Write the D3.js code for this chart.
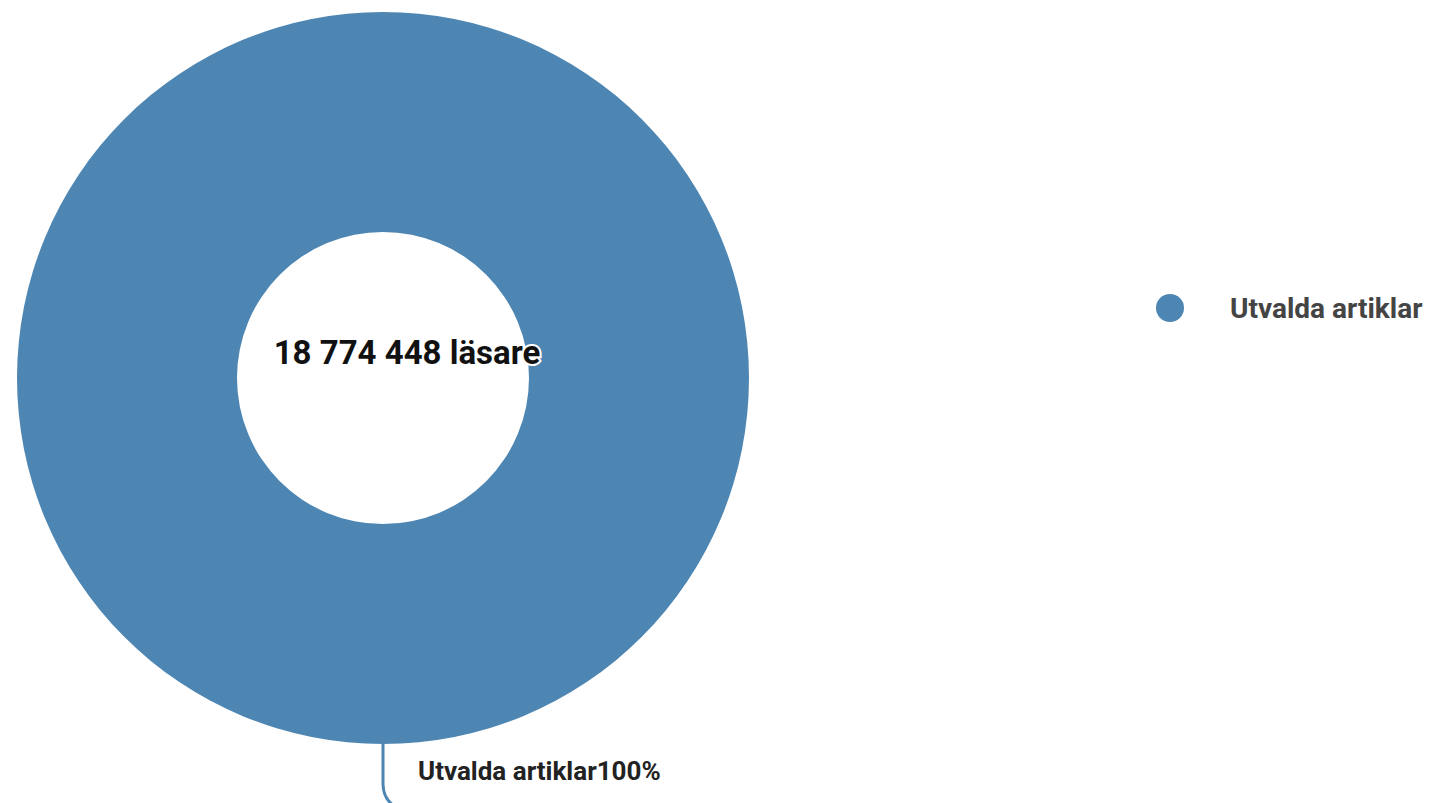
<!DOCTYPE html>
<html>
<head>
<meta charset="utf-8">
<script src="https://cdn.jsdelivr.net/npm/d3@7"></script>
<style>
  html, body { margin: 0; padding: 0; background: #fff; }
  svg { display: block; font-family: Roboto, "Noto Sans", sans-serif; }
</style>
</head>
<body>
<svg id="chart" width="1435" height="803"></svg>
<script>
// data
var categories = ["Utvalda artiklar"];
var values = [18774448];
var totalLabel = "18 774 448 läsare";
var colors = ["#4e86b3"];

var svg = d3.select("#chart");
var cx = 383, cy = 378;
var outerR = 366, innerR = 146;

var pie = d3.pie().sort(null).value(function(d) { return d; });
var arc = d3.arc().innerRadius(innerR).outerRadius(outerR);
var color = d3.scaleOrdinal().domain(categories).range(colors);
var total = d3.sum(values);

var g = svg.append("g").attr("transform", "translate(" + cx + "," + cy + ")");
var arcs = pie(values);

g.selectAll("path.slice")
  .data(arcs)
  .enter()
  .append("path")
  .attr("class", "slice")
  .attr("d", arc)
  .attr("fill", function(d, i) { return color(categories[i]); });

// leader line + label for each slice, starting on the outer edge at the slice midpoint
var edge = d3.arc().innerRadius(outerR).outerRadius(outerR);
arcs.forEach(function(d, i) {
  var mid = (d.startAngle + d.endAngle) / 2;
  // full circle: midpoint is at the bottom
  var p = edge.centroid({startAngle: mid, endAngle: mid});
  var path = d3.path();
  path.moveTo(p[0], p[1]);
  path.lineTo(p[0], p[1] + 40);
  path.quadraticCurveTo(p[0], p[1] + 54, p[0] + 11, p[1] + 62);
  g.append("path")
    .attr("d", path.toString())
    .attr("fill", "none")
    .attr("stroke", color(categories[i]))
    .attr("stroke-width", 3);
  g.append("text")
    .attr("x", p[0] + 35)
    .attr("y", p[1] + 36)
    .attr("font-size", 26)
    .attr("font-weight", "bold")
    .attr("fill", "#222")
    .text(categories[i] + d3.format(".0%")(values[i] / total));
});

// centre total with white halo
g.append("text")
  .attr("x", 24)
  .attr("y", -14)
  .attr("text-anchor", "middle")
  .attr("font-size", 33)
  .attr("font-weight", "bold")
  .attr("fill", "#111")
  .attr("stroke", "#fff")
  .attr("stroke-width", 4)
  .attr("paint-order", "stroke")
  .text(totalLabel);

// legend
var legend = svg.append("g").attr("transform", "translate(1170,308)");
var items = legend.selectAll("g.item")
  .data(categories)
  .enter()
  .append("g")
  .attr("class", "item")
  .attr("transform", function(d, i) { return "translate(0," + (i * 40) + ")"; });
items.append("circle")
  .attr("r", 14)
  .attr("fill", function(d) { return color(d); });
items.append("text")
  .attr("x", 60)
  .attr("y", 10)
  .attr("font-size", 28)
  .attr("font-weight", "bold")
  .attr("fill", "#444")
  .text(function(d) { return d; });
</script>
</body>
</html>
